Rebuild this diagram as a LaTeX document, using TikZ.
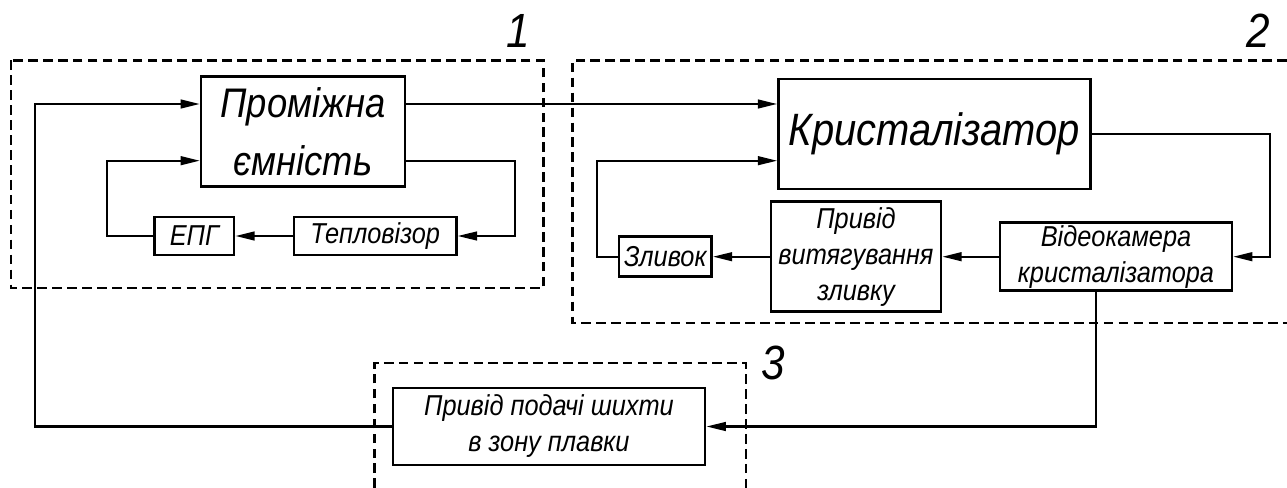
\documentclass[tikz,border=0pt]{standalone}
\usepackage{fontspec}
\setmainfont{Liberation Sans}[FakeStretch=0.88]
\usetikzlibrary{arrows.meta}
\newcommand{\fsmall}{\fontsize{21.6pt}{27pt}\selectfont\itshape}
\newcommand{\fbig}{\fontsize{31pt}{43.5pt}\selectfont\itshape}
\newcommand{\fkr}{\fontsize{34pt}{40pt}\selectfont\itshape}
\newcommand{\fdig}{\fontsize{36pt}{40pt}\selectfont\itshape}
\begin{document}
\begin{tikzpicture}[x=0.75pt,y=-0.75pt,
  bx/.style 2 args={draw, line width=1.9pt, inner sep=0pt, align=center,
    minimum width=#1*0.75pt, minimum height=#2*0.75pt},
  grp/.style={draw, line width=1.9pt, dash pattern=on 7.2pt off 4pt},
  arr/.style={line width=1.7pt, -{Triangle[length=14.5pt,width=6.5pt]}},
  dig/.style={inner sep=0pt, font=\fdig}]
\useasboundingbox (0,0) rectangle (1287,488);

% group frames
\draw[grp] (11,60.5) rectangle (543.5,288);
\draw[grp] (1287,60.5) -- (572.5,60.5) -- (572.5,323) -- (1287,323);
\draw[grp] (374.5,488) -- (374.5,363) -- (746,363) -- (746,488);

\node[dig] (lab1) at (518,31) {1};
\node[dig] (lab2) at (1258,31) {2};
\node[dig] (lab3) at (773,363) {3};

% blocks
\node[bx={203.6}{110}, font=\fbig] (prom) at (303,131.7) {Проміжна\\ємність};
\node[bx={312}{110}, font=\fkr] (kryst) at (934.5,134) {Кристалізатор};
\node[bx={79.4}{38.3}, font=\fsmall] (epg) at (194.3,236) {ЕПГ};
\node[bx={162.4}{38.3}, font=\fsmall] (teplo) at (375.2,236) {Тепловізор};
\node[bx={92.6}{40}, font=\fsmall] (zlyv) at (665.3,256.7) {Зливок};
\node[bx={170}{110}, font=\fsmall] (pryv) at (856,256.7) {Привід\\витягування\\зливку};
\node[bx={231.6}{68}, font=\fsmall] (video) at (1116,256.7) {Відеокамера\\кристалізатора};
\node[bx={312.3}{77}, font=\fsmall] (pod) at (549,426.5) {Привід подачі шихти\\в зону плавки};

% turning points
\coordinate (lx) at (35,104);
\coordinate (l2) at (107,160.7);
\coordinate (r1) at (515,160.7);
\coordinate (l3) at (597,160.7);
\coordinate (r2) at (1270,134);
\coordinate (d1) at (1096,426.5);

% connectors
\draw[arr] (pod.west) -| (lx) -- (prom.west |- lx);
\draw[arr] (prom.east |- lx) -- (kryst.west |- lx);
\draw[arr] (prom.east |- r1) -- (r1) |- (teplo.east);
\draw[arr] (teplo.west) -- (epg.east);
\draw[arr] (epg.west) -| (l2) -- (prom.west |- l2);
\draw[arr] (kryst.east |- r2) -- (r2) |- (video.east);
\draw[arr] (video.west) -- (pryv.east);
\draw[arr] (pryv.west) -- (zlyv.east);
\draw[arr] (zlyv.west) -| (l3) -- (kryst.west |- l3);
\draw[arr] (video.south -| d1) -- (d1) -- (pod.east);
\end{tikzpicture}
\end{document}
